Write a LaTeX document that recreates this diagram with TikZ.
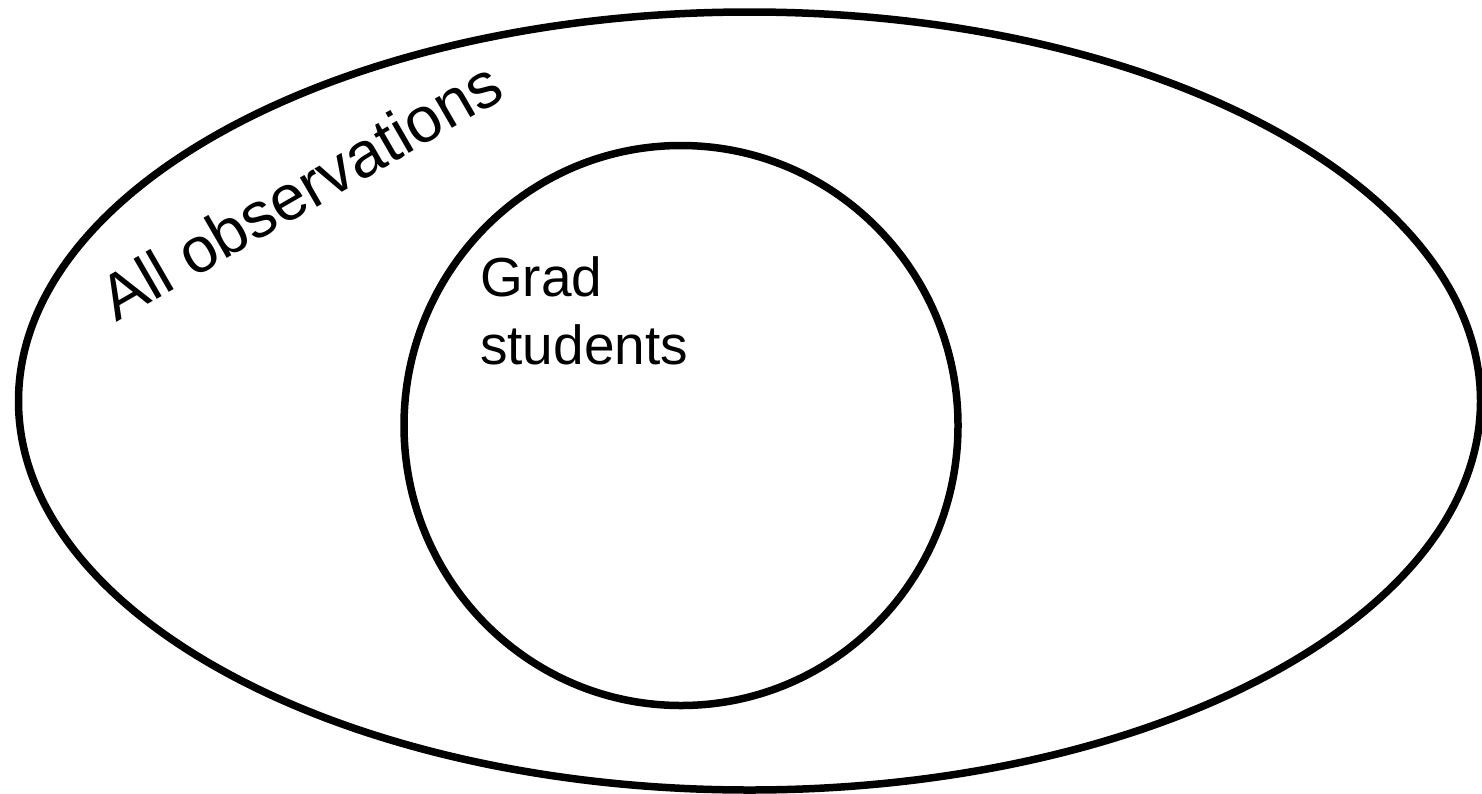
\documentclass[tikz,border=0pt]{standalone}
\usepackage{fontspec}
\setmainfont{Liberation Sans}
\usetikzlibrary{shapes.geometric}
\begin{document}
\begin{tikzpicture}[x=1pt,y=-1pt,
  setshape/.style={ellipse,draw=black,line width=7.5pt,inner sep=0pt},
  lbl/.style={inner sep=0pt,font=\fontsize{55}{68}\selectfont}]
\useasboundingbox[fill=white] (0,0) rectangle (1482,793);
\begin{scope}
\clip (0,0) rectangle (1482,793);
\node[setshape,minimum width=1462pt,minimum height=778pt] (all) at (749.5,401) {};
\node[setshape,minimum width=554pt,minimum height=560pt] (grad) at (681,425.5) {};
\end{scope}
\node[lbl,anchor=base west,rotate=30,font=\fontsize{64}{76}\selectfont] (alllbl) at (116,323) {All observations};
\node[lbl,anchor=north west,align=left] (gradlbl) at (480,256) {Grad\\students};
\end{tikzpicture}
\end{document}
